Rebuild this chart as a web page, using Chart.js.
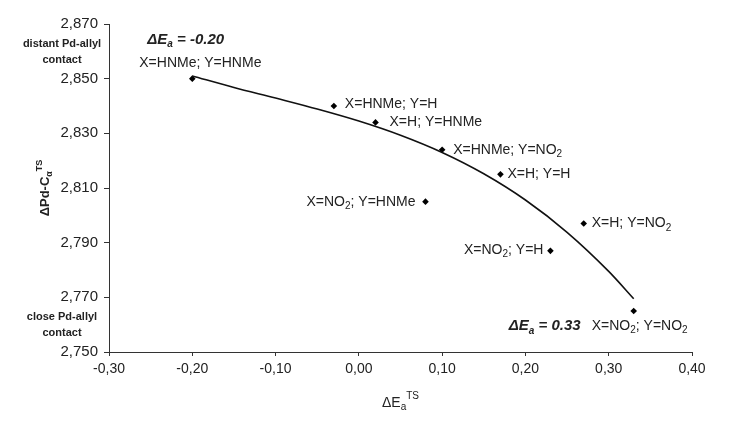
<!DOCTYPE html>
<html>
<head>
<meta charset="utf-8">
<script src="https://cdn.jsdelivr.net/npm/chart.js@4.4.1/dist/chart.umd.min.js"></script>
<style>
    body { margin: 0; background: #fff; }
    #wrap { width: 732px; height: 422px; position: relative; }
</style>
</head>
<body>
<div id="wrap"><canvas id="pdChart"></canvas></div>
<script>
// data
const substituents = ['X=HNMe; Y=HNMe', 'X=HNMe; Y=H', 'X=H; Y=HNMe', 'X=HNMe; Y=NO_{2}', 'X=H; Y=H',
    'X=NO_{2}; Y=HNMe', 'X=H; Y=NO_{2}', 'X=NO_{2}; Y=H', 'X=NO_{2}; Y=NO_{2}'];
const deltaEa = [-0.20, -0.03, 0.02, 0.10, 0.17, 0.08, 0.27, 0.23, 0.33];
const pdCalpha = [2.850, 2.840, 2.834, 2.824, 2.815, 2.805, 2.797, 2.787, 2.765];

// trend curve, sampled from the drawn line
const trendX = [-0.20, -0.15, -0.10, -0.05, 0.00, 0.05, 0.10, 0.15, 0.20, 0.25, 0.30, 0.33];
const trendY = [2.851, 2.8468, 2.8429, 2.8389, 2.8345, 2.8293, 2.8230, 2.8152, 2.8056, 2.7938, 2.7795, 2.7695];

const xTickValues = [-0.30, -0.20, -0.10, 0.00, 0.10, 0.20, 0.30, 0.40];
const yTickValues = [2.750, 2.770, 2.790, 2.810, 2.830, 2.850, 2.870];

const extremeLabels = ['ΔE_{a} = -0.20', 'ΔE_{a} = 0.33'];

// label placement next to each point: dx, dy, align
const labelPlacement = [
    [-53, -16, 'left'], [11, -2, 'left'], [14, 0, 'left'], [11, 0, 'left'], [7, 0, 'left'],
    [-10, 0, 'right'], [8, 0, 'left'], [-7, -1, 'right'], [-42, 15, 'left']
];

const FONT = '"Liberation Sans", Arial, Helvetica, sans-serif';
const INK = '#222';

// draws text with _{sub} and ^{sup} parts
function drawRich(ctx, str, x, y, o) {
    const size = o.size || 14;
    const base = (o.style || '') + ' ' + (o.weight || '') + ' ';
    const parts = [];
    const re = /_\{([^}]*)\}|\^\{([^}]*)\}|([^_^]+)/g;
    let m;
    while ((m = re.exec(str)) !== null) {
        if (m[1] !== undefined) parts.push({ t: m[1], k: 'sub' });
        else if (m[2] !== undefined) parts.push({ t: m[2], k: 'sup' });
        else parts.push({ t: m[3], k: 'n' });
    }
    let total = 0;
    parts.forEach(p => {
        const s = p.k === 'n' ? size : Math.round(size * 0.68);
        p.font = base + s + 'px ' + FONT;
        ctx.font = p.font;
        p.w = ctx.measureText(p.t).width;
        total += p.w;
    });
    let cx = x;
    if (o.align === 'right') cx = x - total;
    else if (o.align === 'center') cx = x - total / 2;
    ctx.save();
    ctx.fillStyle = o.color || INK;
    ctx.textBaseline = 'middle';
    ctx.textAlign = 'left';
    parts.forEach(p => {
        ctx.font = p.font;
        let dy = 0;
        if (p.k === 'sub') dy = size * 0.32;
        if (p.k === 'sup') dy = -size * 0.45;
        ctx.fillText(p.t, cx, y + dy);
        cx += p.w;
    });
    ctx.restore();
}

const annotations = {
    id: 'annotations',
    afterDraw(chart) {
        const ctx = chart.ctx;
        const xs = chart.scales.x, ys = chart.scales.y;
        const area = chart.chartArea;

        // point labels
        substituents.forEach((txt, i) => {
            const px = xs.getPixelForValue(deltaEa[i]);
            const py = ys.getPixelForValue(pdCalpha[i]);
            const pl = labelPlacement[i];
            drawRich(ctx, txt, px + pl[0], py + pl[1], { size: 14, align: pl[2] });
        });

        // activation energy notes at the two ends
        const p0x = xs.getPixelForValue(deltaEa[0]), p0y = ys.getPixelForValue(pdCalpha[0]);
        drawRich(ctx, extremeLabels[0], p0x - 45, p0y - 39, { size: 15, weight: 'bold', style: 'italic', align: 'left' });
        const last = deltaEa.length - 1;
        const p9x = xs.getPixelForValue(deltaEa[last]), p9y = ys.getPixelForValue(pdCalpha[last]);
        drawRich(ctx, extremeLabels[1], p9x - 125, p9y + 15, { size: 15, weight: 'bold', style: 'italic', align: 'left' });

        // contact notes on the left
        const noteX = 62;
        drawRich(ctx, 'distant Pd-allyl', noteX, area.top + 20, { size: 11, weight: 'bold', align: 'center' });
        drawRich(ctx, 'contact', noteX, area.top + 36, { size: 11, weight: 'bold', align: 'center' });
        drawRich(ctx, 'close Pd-allyl', noteX, area.bottom - 35, { size: 11, weight: 'bold', align: 'center' });
        drawRich(ctx, 'contact', noteX, area.bottom - 19, { size: 11, weight: 'bold', align: 'center' });

        // axis titles
        drawRich(ctx, 'ΔE_{a}^{TS}', (area.left + area.right) / 2, area.bottom + 51, { size: 14, align: 'center' });
        ctx.save();
        ctx.translate(45, (area.top + area.bottom) / 2);
        ctx.rotate(-Math.PI / 2);
        drawRich(ctx, 'ΔPd-C_{α}^{TS}', 0, 0, { size: 13, weight: 'bold', align: 'center' });
        ctx.restore();
    }
};

const fmt = (v, d) => v.toFixed(d).replace('.', ',');

document.addEventListener('DOMContentLoaded', () => {
    Chart.defaults.font.family = FONT;
    Chart.defaults.color = INK;

    const ctx = document.getElementById('pdChart').getContext('2d');
    new Chart(ctx, {
        type: 'scatter',
        data: {
            datasets: [
                {
                    type: 'line',
                    label: 'trend',
                    data: trendX.map((x, i) => ({ x: x, y: trendY[i] })),
                    borderColor: '#111',
                    borderWidth: 1.6,
                    pointRadius: 0,
                    fill: false,
                    cubicInterpolationMode: 'monotone'
                },
                {
                    label: 'substituents',
                    data: deltaEa.map((x, i) => ({ x: x, y: pdCalpha[i] })),
                    pointStyle: 'rectRot',
                    pointRadius: 3.3,
                    backgroundColor: '#000',
                    borderColor: '#000',
                    borderWidth: 0
                }
            ]
        },
        options: {
            responsive: true,
            maintainAspectRatio: false,
            animation: false,
            layout: { padding: { top: 24, right: 40, left: 0, bottom: 0 } },
            plugins: {
                legend: { display: false },
                tooltip: { enabled: false }
            },
            scales: {
                x: {
                    type: 'linear',
                    min: -0.30,
                    max: 0.40,
                    afterBuildTicks: s => { s.ticks = xTickValues.map(v => ({ value: v })); },
                    afterFit: s => { s.height = 70; },
                    grid: { drawOnChartArea: false, drawTicks: true, tickLength: 4, tickColor: '#333' },
                    border: { color: '#333', width: 1 },
                    ticks: {
                        padding: 5,
                        maxRotation: 0,
                        font: { size: 14 },
                        color: INK,
                        callback: v => fmt(v, 2)
                    }
                },
                y: {
                    type: 'linear',
                    min: 2.75,
                    max: 2.87,
                    afterBuildTicks: s => { s.ticks = yTickValues.map(v => ({ value: v })); },
                    afterFit: s => { s.width = 109; },
                    grid: { drawOnChartArea: false, drawTicks: true, tickLength: 5, tickColor: '#333' },
                    border: { color: '#333', width: 1 },
                    ticks: {
                        padding: 6,
                        font: { size: 15 },
                        color: INK,
                        callback: v => fmt(v, 3)
                    }
                }
            }
        },
        plugins: [annotations]
    });
});
</script>
</body>
</html>
